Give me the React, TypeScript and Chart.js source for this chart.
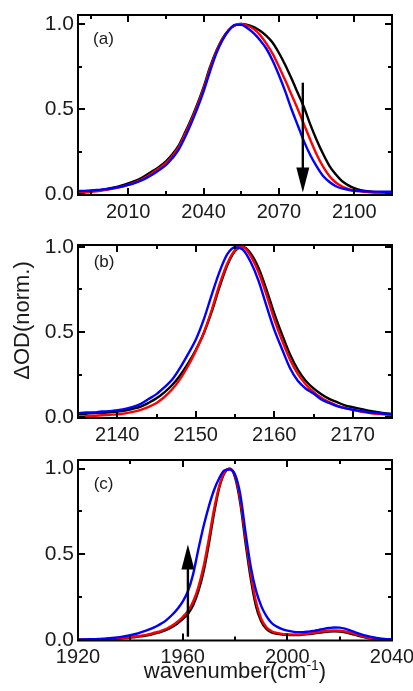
import React, { useEffect, useRef } from "react";
import { Chart, registerables } from "chart.js";
Chart.register(...registerables);

const FAMILY = "'Liberation Sans', Arial, Helvetica, sans-serif";
const TEXT = "#1a1a1a";
const BLUE = "#0000ff";
const RED = "#ff0000";
const BLACK = "#000000";

// ---------- Panel (a) ----------
const xA = [1990, 1992.5, 1995, 1997.5, 2000, 2002.5, 2005, 2007.5, 2010, 2012.5, 2015, 2017.5, 2020, 2022.5, 2025, 2027.5, 2030, 2032.5, 2035, 2037.5, 2040, 2042.5, 2045, 2047.5, 2050, 2052.5, 2055, 2057.5, 2060, 2062.5, 2065, 2067.5, 2070, 2072.5, 2075, 2077.5, 2080, 2082.5, 2085, 2087.5, 2090, 2092.5, 2095, 2097.5, 2100, 2102.5, 2105, 2107.5, 2110, 2112.5, 2115];
const blackA = [0.014, 0.016, 0.019, 0.023, 0.028, 0.035, 0.043, 0.053, 0.065, 0.078, 0.095, 0.117, 0.14, 0.165, 0.195, 0.235, 0.285, 0.36, 0.44, 0.53, 0.63, 0.745, 0.84, 0.915, 0.965, 0.992, 1.0, 0.995, 0.982, 0.96, 0.93, 0.89, 0.83, 0.76, 0.68, 0.595, 0.51, 0.41, 0.32, 0.24, 0.17, 0.12, 0.08, 0.055, 0.037, 0.026, 0.019, 0.015, 0.013, 0.012, 0.011];
const redA = [0.01, 0.012, 0.015, 0.019, 0.024, 0.03, 0.037, 0.046, 0.057, 0.07, 0.086, 0.106, 0.13, 0.155, 0.185, 0.225, 0.275, 0.35, 0.43, 0.52, 0.62, 0.735, 0.835, 0.912, 0.965, 0.994, 1.0, 0.99, 0.97, 0.935, 0.885, 0.825, 0.75, 0.67, 0.585, 0.5, 0.41, 0.32, 0.235, 0.165, 0.11, 0.072, 0.048, 0.033, 0.024, 0.018, 0.014, 0.012, 0.011, 0.01, 0.01];
const blueA = [0.02, 0.021, 0.023, 0.026, 0.03, 0.034, 0.04, 0.047, 0.056, 0.067, 0.081, 0.099, 0.12, 0.145, 0.172, 0.212, 0.262, 0.333, 0.415, 0.505, 0.605, 0.72, 0.825, 0.905, 0.962, 0.995, 0.995, 0.975, 0.945, 0.905, 0.855, 0.785, 0.7, 0.605, 0.5, 0.405, 0.31, 0.23, 0.165, 0.11, 0.075, 0.05, 0.036, 0.028, 0.022, 0.02, 0.018, 0.017, 0.017, 0.016, 0.016];
const xTicksA = [2010, 2040, 2070, 2100];
const xMinorA = [1995, 2025, 2055, 2085];

// ---------- Panel (b) ----------
const xB = [2135, 2136, 2137, 2138, 2139, 2140, 2141, 2142, 2143, 2144, 2145, 2146, 2147, 2148, 2149, 2150, 2151, 2152, 2153, 2154, 2155, 2156, 2157, 2158, 2159, 2160, 2161, 2162, 2163, 2164, 2165, 2166, 2167, 2168, 2169, 2170, 2171, 2172, 2173, 2174, 2175];
const blackB = [0.02, 0.022, 0.026, 0.027, 0.031, 0.035, 0.041, 0.051, 0.064, 0.086, 0.112, 0.147, 0.19, 0.246, 0.315, 0.395, 0.49, 0.615, 0.76, 0.89, 0.975, 1.0, 0.96, 0.875, 0.75, 0.61, 0.485, 0.37, 0.28, 0.215, 0.17, 0.136, 0.109, 0.09, 0.071, 0.06, 0.05, 0.04, 0.033, 0.025, 0.02];
const redB = [0.005, 0.008, 0.01, 0.013, 0.016, 0.018, 0.024, 0.033, 0.045, 0.062, 0.085, 0.12, 0.165, 0.225, 0.3, 0.39, 0.495, 0.625, 0.775, 0.9, 0.98, 0.998, 0.945, 0.85, 0.72, 0.575, 0.45, 0.34, 0.255, 0.195, 0.15, 0.115, 0.09, 0.07, 0.055, 0.045, 0.035, 0.028, 0.022, 0.018, 0.015];
const blueB = [0.025, 0.03, 0.029, 0.035, 0.037, 0.043, 0.05, 0.062, 0.08, 0.108, 0.137, 0.177, 0.222, 0.29, 0.37, 0.455, 0.571, 0.714, 0.85, 0.955, 0.997, 0.983, 0.91, 0.8, 0.655, 0.515, 0.4, 0.29, 0.215, 0.17, 0.14, 0.105, 0.085, 0.066, 0.055, 0.045, 0.038, 0.031, 0.027, 0.022, 0.02];
const xTicksB = [2140, 2150, 2160, 2170];
const xMinorB = [2145, 2155, 2165];

// ---------- Panel (c) ----------
const xC = [1920, 1922, 1924, 1926, 1928, 1930, 1932, 1934, 1936, 1938, 1940, 1942, 1944, 1946, 1948, 1950, 1952, 1954, 1956, 1958, 1960, 1962, 1964, 1966, 1968, 1970, 1972, 1974, 1976, 1978, 1980, 1982, 1984, 1986, 1988, 1990, 1992, 1994, 1996, 1998, 2000, 2002, 2004, 2006, 2008, 2010, 2012, 2014, 2016, 2018, 2020, 2022, 2024, 2026, 2028, 2030, 2032, 2034, 2036, 2038, 2040];
const blackC = [0.002, 0.002, 0.003, 0.003, 0.004, 0.005, 0.006, 0.008, 0.01, 0.012, 0.015, 0.018, 0.022, 0.027, 0.033, 0.041, 0.05, 0.061, 0.077, 0.097, 0.122, 0.152, 0.203, 0.285, 0.4, 0.56, 0.74, 0.89, 0.975, 1.0, 0.95, 0.8, 0.57, 0.36, 0.2, 0.11, 0.065, 0.045, 0.037, 0.033, 0.031, 0.03, 0.03, 0.032, 0.035, 0.039, 0.043, 0.047, 0.05, 0.051, 0.05, 0.046, 0.039, 0.031, 0.022, 0.015, 0.009, 0.005, 0.003, 0.002, 0.001];
const redC = [0.002, 0.002, 0.003, 0.004, 0.005, 0.006, 0.007, 0.009, 0.011, 0.014, 0.017, 0.021, 0.026, 0.031, 0.038, 0.046, 0.056, 0.068, 0.085, 0.107, 0.135, 0.17, 0.225, 0.31, 0.43, 0.59, 0.765, 0.9, 0.98, 1.0, 0.96, 0.82, 0.6, 0.39, 0.225, 0.125, 0.075, 0.052, 0.042, 0.036, 0.034, 0.032, 0.032, 0.034, 0.038, 0.043, 0.048, 0.052, 0.055, 0.056, 0.055, 0.051, 0.044, 0.035, 0.026, 0.018, 0.012, 0.007, 0.004, 0.002, 0.001];
const blueC = [0.003, 0.004, 0.005, 0.006, 0.007, 0.009, 0.011, 0.014, 0.018, 0.023, 0.029, 0.036, 0.045, 0.055, 0.067, 0.081, 0.098, 0.12, 0.148, 0.182, 0.225, 0.285, 0.385, 0.53, 0.665, 0.78, 0.875, 0.945, 0.99, 0.995, 0.965, 0.85, 0.63, 0.43, 0.29, 0.2, 0.14, 0.1, 0.079, 0.065, 0.056, 0.05, 0.047, 0.047, 0.05, 0.054, 0.06, 0.066, 0.071, 0.074, 0.073, 0.067, 0.057, 0.045, 0.035, 0.026, 0.019, 0.013, 0.009, 0.006, 0.005];
const xTicksC = [1920, 1960, 2000, 2040];
const xMinorC = [1940, 1980, 2020];

// shared y ticks
const yTicks = [0, 0.5, 1.0];
const yMinor = [0.25, 0.75];

const Y_TITLE = "ΔOD(norm.)";
const X_TITLE_MAIN = "wavenumber(cm";
const X_TITLE_SUP = "-1";
const X_TITLE_END = ")";

type Arrow = { x: number; from: number; to: number };

type PanelCfg = {
  top: number;
  height: number;
  padTop: number;
  xAxisH: number;
  xMin: number;
  xMax: number;
  yMin: number;
  yMax: number;
  x: number[];
  black: number[];
  red: number[];
  blue: number[];
  xTicks: number[];
  xMinor: number[];
  label: string;
  labelAt: [number, number];
  arrow?: Arrow;
  yTitle?: boolean;
  xTitle?: boolean;
};

const panels: PanelCfg[] = [
  {
    top: 0, height: 230, padTop: 15, xAxisH: 35,
    xMin: 1990, xMax: 2115, yMin: -0.003, yMax: 1.053,
    x: xA, black: blackA, red: redA, blue: blueA,
    xTicks: xTicksA, xMinor: xMinorA,
    label: "(a)", labelAt: [1996, 0.91],
    arrow: { x: 2079.5, from: 0.656, to: 0.012 },
  },
  {
    top: 230, height: 220, padTop: 15, xAxisH: 32,
    xMin: 2135, xMax: 2175, yMin: -0.003, yMax: 1.01,
    x: xB, black: blackB, red: redB, blue: blueB,
    xTicks: xTicksB, xMinor: xMinorB,
    label: "(b)", labelAt: [2137, 0.91],
    yTitle: true,
  },
  {
    top: 450, height: 241, padTop: 10, xAxisH: 50.5,
    xMin: 1920, xMax: 2040, yMin: -0.002, yMax: 1.05,
    x: xC, black: blackC, red: redC, blue: blueC,
    xTicks: xTicksC, xMinor: xMinorC,
    label: "(c)", labelAt: [1926, 0.91],
    arrow: { x: 1962, from: 0.02, to: 0.557 },
    xTitle: true,
  },
];

function makeDeco(cfg: PanelCfg) {
  return {
    id: "deco",
    afterDatasetsDraw(chart: any) {
      const { ctx, chartArea: a } = chart;
      const xs = chart.scales.x;
      const ys = chart.scales.y;
      ctx.save();
      ctx.strokeStyle = "#000";
      ctx.lineWidth = 2;
      ctx.lineCap = "butt";
      // frame
      ctx.strokeRect(a.left, a.top, a.right - a.left, a.bottom - a.top);
      const MAJ = 7;
      const MIN = 4;
      ctx.beginPath();
      const vTick = (v: number, len: number) => {
        const px = Math.round(xs.getPixelForValue(v));
        ctx.moveTo(px, a.bottom);
        ctx.lineTo(px, a.bottom - len);
        ctx.moveTo(px, a.top);
        ctx.lineTo(px, a.top + len);
      };
      const hTick = (v: number, len: number) => {
        const py = Math.round(ys.getPixelForValue(v));
        ctx.moveTo(a.left, py);
        ctx.lineTo(a.left + len, py);
        ctx.moveTo(a.right, py);
        ctx.lineTo(a.right - len, py);
      };
      cfg.xTicks.forEach((v) => vTick(v, MAJ));
      cfg.xMinor.forEach((v) => vTick(v, MIN));
      yTicks.forEach((v) => hTick(v, MAJ));
      yMinor.forEach((v) => hTick(v, MIN));
      ctx.stroke();

      // arrow
      if (cfg.arrow) {
        const ar = cfg.arrow;
        const px = xs.getPixelForValue(ar.x);
        const y0 = ys.getPixelForValue(ar.from);
        const y1 = ys.getPixelForValue(ar.to);
        const dir = Math.sign(y1 - y0);
        const head = 25;
        ctx.lineWidth = 2.4;
        ctx.beginPath();
        ctx.moveTo(px, y0);
        ctx.lineTo(px, y1 - dir * (head - 2));
        ctx.stroke();
        ctx.fillStyle = "#000";
        ctx.beginPath();
        ctx.moveTo(px, y1);
        ctx.lineTo(px - 6.5, y1 - dir * head);
        ctx.lineTo(px + 6.5, y1 - dir * head);
        ctx.closePath();
        ctx.fill();
      }

      // panel label
      ctx.fillStyle = TEXT;
      ctx.font = `17px ${FAMILY}`;
      ctx.textAlign = "left";
      ctx.textBaseline = "middle";
      ctx.fillText(cfg.label, xs.getPixelForValue(cfg.labelAt[0]), ys.getPixelForValue(cfg.labelAt[1]));

      // y title
      if (cfg.yTitle) {
        ctx.save();
        ctx.translate(a.left - 55, (a.top + a.bottom) / 2 - 11);
        ctx.rotate(-Math.PI / 2);
        ctx.font = `22px ${FAMILY}`;
        ctx.textAlign = "center";
        ctx.textBaseline = "middle";
        ctx.fillText(Y_TITLE, 0, 0);
        ctx.restore();
      }

      // x title with superscript
      if (cfg.xTitle) {
        const mainFont = `22px ${FAMILY}`;
        const supFont = `14px ${FAMILY}`;
        ctx.font = mainFont;
        const w1 = ctx.measureText(X_TITLE_MAIN).width;
        const w3 = ctx.measureText(X_TITLE_END).width;
        ctx.font = supFont;
        const w2 = ctx.measureText(X_TITLE_SUP).width;
        const total = w1 + w2 + w3;
        let sx = (a.left + a.right) / 2 - total / 2;
        const by = a.bottom + 37;
        ctx.textAlign = "left";
        ctx.textBaseline = "alphabetic";
        ctx.font = mainFont;
        ctx.fillText(X_TITLE_MAIN, sx, by);
        sx += w1;
        ctx.font = supFont;
        ctx.fillText(X_TITLE_SUP, sx, by - 8);
        sx += w2;
        ctx.font = mainFont;
        ctx.fillText(X_TITLE_END, sx, by);
      }
      ctx.restore();
    },
  };
}

function Panel({ cfg }: { cfg: PanelCfg }) {
  const ref = useRef<HTMLCanvasElement | null>(null);
  useEffect(() => {
    if (!ref.current) return;
    const mk = (ys: number[]) => cfg.x.map((x, i) => ({ x, y: ys[i] }));
    const line = (data: any, color: string) => ({
      data,
      borderColor: color,
      backgroundColor: color,
      borderWidth: 2.4,
      pointRadius: 0,
      fill: false,
      cubicInterpolationMode: "monotone" as const,
    });
    const chart = new Chart(ref.current, {
      type: "line",
      data: {
        datasets: [line(mk(cfg.blue), BLUE), line(mk(cfg.red), RED), line(mk(cfg.black), BLACK)],
      },
      options: {
        responsive: false,
        animation: false,
        layout: { padding: { top: cfg.padTop, right: 21, left: 0, bottom: 0 } },
        plugins: { legend: { display: false }, tooltip: { enabled: false } },
        scales: {
          x: {
            type: "linear",
            min: cfg.xMin,
            max: cfg.xMax,
            grid: { display: false, drawTicks: false },
            border: { display: false },
            ticks: {
              font: { family: FAMILY, size: 20 },
              color: TEXT,
              padding: 5,
              maxRotation: 0,
              autoSkip: false,
              callback: (v: any) => String(v),
            },
            afterBuildTicks: (s: any) => {
              s.ticks = cfg.xTicks.map((v) => ({ value: v }));
            },
            afterFit: (s: any) => {
              s.height = cfg.xAxisH;
              s.paddingLeft = 0;
              s.paddingRight = 0;
            },
          },
          y: {
            type: "linear",
            min: cfg.yMin,
            max: cfg.yMax,
            grid: { display: false, drawTicks: false },
            border: { display: false },
            ticks: {
              font: { family: FAMILY, size: 21 },
              color: TEXT,
              padding: 4,
              callback: (v: any) => Number(v).toFixed(1),
            },
            afterBuildTicks: (s: any) => {
              s.ticks = yTicks.map((v) => ({ value: v }));
            },
            afterFit: (s: any) => {
              s.width = 78;
              s.paddingTop = 0;
              s.paddingBottom = 0;
            },
          },
        },
      } as any,
      plugins: [makeDeco(cfg)],
    });
    return () => chart.destroy();
  }, [cfg]);
  return (
    <canvas
      ref={ref}
      width={413}
      height={cfg.height}
      style={{ position: "absolute", left: 0, top: cfg.top, width: 413, height: cfg.height, display: "block" }}
    />
  );
}

export default function App() {
  return (
    <div style={{ position: "absolute", left: 0, top: 0, width: 413, height: 691, background: "#fff", overflow: "hidden" }}>
      {panels.map((p) => (
        <Panel key={p.label} cfg={p} />
      ))}
    </div>
  );
}
